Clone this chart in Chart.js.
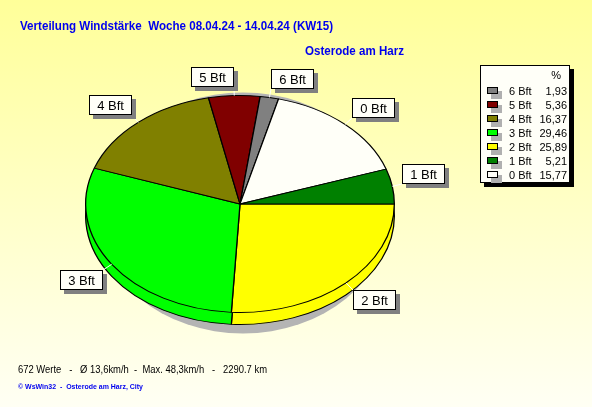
<!DOCTYPE html>
<html>
<head>
<meta charset="utf-8">
<script src="https://cdn.jsdelivr.net/npm/chart.js@4.4.1/dist/chart.umd.min.js"></script>
<style>
  html, body { margin: 0; padding: 0; background: #fffff0; }
  canvas { display: block; }
</style>
</head>
<body>
<canvas id="windChart" width="592" height="407"></canvas>
<script>
// Beaufort classes, in drawing order (clockwise from 3 o'clock)
const categories = ['2 Bft', '3 Bft', '4 Bft', '5 Bft', '6 Bft', '0 Bft', '1 Bft'];
const percentages = [25.89, 29.46, 16.37, 5.36, 1.93, 15.77, 5.21];
const sliceColors = ['#ffff00', '#00ff00', '#808000', '#800000', '#808080', '#fffff8', '#008000'];
// Legend rows, top to bottom
const legendOrder = ['6 Bft', '5 Bft', '4 Bft', '3 Bft', '2 Bft', '1 Bft', '0 Bft'];

const titleText = 'Verteilung Windstärke  Woche 08.04.24 - 14.04.24 (KW15)';
const stationText = 'Osterode am Harz';
const statsText = '672 Werte   -   Ø 13,6km/h  -  Max. 48,3km/h   -   2290.7 km';
const creditText = '© WsWin32  -  Osterode am Harz, City';

const FONT = '"Liberation Sans", Arial, sans-serif';
const tilt = 0.703;   // vertical squash of the pie
const depth = 12;     // thickness of the pie side

function fmt(v) {
    return v.toFixed(2).replace('.', ',');
}

// Yellow to cream background
const background = {
    id: 'background',
    beforeDraw(chart) {
        const {ctx, width, height} = chart;
        const g = ctx.createLinearGradient(0, 0, 0, height);
        g.addColorStop(0, '#ffff99');
        g.addColorStop(1, '#fffff4');
        ctx.save();
        ctx.fillStyle = g;
        ctx.fillRect(0, 0, width, height);
        ctx.restore();
    }
};

// Squash the pie into an ellipse, with a shadow and a side wall
const pie3d = {
    id: 'pie3d',
    beforeDatasetsDraw(chart) {
        const ctx = chart.ctx;
        const arcs = chart.getDatasetMeta(0).data;
        const {x, y, outerRadius: r} = arcs[0];
        ctx.save();
        ctx.fillStyle = '#b4b4b4';
        ctx.beginPath();
        ctx.ellipse(x + 3, y + 9, r - 8, r * tilt + 12, 0, 0, Math.PI * 2);
        ctx.fill();

        ctx.save();
        ctx.translate(x, y + depth);
        ctx.scale(1, tilt);
        ctx.translate(-x, -y);
        arcs.forEach(a => a.draw(ctx));
        ctx.restore();

        ctx.translate(x, y);
        ctx.scale(1, tilt);
        ctx.translate(-x, -y);
    },
    afterDatasetsDraw(chart) {
        chart.ctx.restore();
    }
};

function drawBox(ctx, x, y, w, h, shadow, off) {
    ctx.fillStyle = shadow;
    ctx.fillRect(x + off, y + off, w, h);
    ctx.fillStyle = '#fffff8';
    ctx.fillRect(x, y, w, h);
    ctx.strokeStyle = '#000';
    ctx.lineWidth = 1;
    ctx.strokeRect(x + 0.5, y + 0.5, w - 1, h - 1);
}

// Slice labels, legend and texts
const decorations = {
    id: 'decorations',
    afterDraw(chart) {
        const ctx = chart.ctx;
        const arcs = chart.getDatasetMeta(0).data;
        ctx.save();

        // slice labels
        ctx.font = '13px ' + FONT;
        ctx.textBaseline = 'middle';
        ctx.textAlign = 'center';
        arcs.forEach((a, i) => {
            const mid = (a.startAngle + a.endAngle) / 2;
            const c = Math.cos(mid), s = Math.sin(mid);
            const ex = a.x + c * a.outerRadius;
            const ey = a.y + s * a.outerRadius * tilt;
            const w = Math.round(ctx.measureText(categories[i]).width + 16);
            const h = 20;
            const gx = ex + 10 * c;
            const gy = ey + 8 * s + (s < 0 ? -1 : 1);
            const bx = Math.round(c >= 0 ? gx : gx - w);
            const by = Math.round(s < 0 ? gy - h : gy);
            ctx.strokeStyle = '#ffffff';
            ctx.beginPath();
            ctx.moveTo(ex, ey);
            ctx.lineTo(c >= 0 ? bx : bx + w, s < 0 ? by + h : by);
            ctx.stroke();
            drawBox(ctx, bx, by, w, h, '#808080', 4);
            ctx.fillStyle = '#000';
            ctx.fillText(categories[i], bx + w / 2, by + h / 2 + 1);
        });

        // legend
        drawBox(ctx, 480, 65, 90, 118, '#000000', 4);
        ctx.font = '11px ' + FONT;
        ctx.fillStyle = '#000';
        ctx.textAlign = 'right';
        ctx.fillText('%', 561, 76);
        legendOrder.forEach((name, k) => {
            const i = categories.indexOf(name);
            const yy = 92 + 14 * k;
            ctx.fillStyle = '#b0b0b0';
            ctx.fillRect(491, yy - 1, 11, 8);
            ctx.fillStyle = sliceColors[i];
            ctx.fillRect(487, yy - 5, 11, 7);
            ctx.strokeStyle = '#000';
            ctx.strokeRect(487.5, yy - 4.5, 10, 6);
            ctx.fillStyle = '#000';
            ctx.textAlign = 'left';
            ctx.fillText(name, 509, yy);
            ctx.textAlign = 'right';
            ctx.fillText(fmt(percentages[i]), 567, yy);
        });

        // titles
        ctx.textAlign = 'left';
        ctx.textBaseline = 'alphabetic';
        ctx.fillStyle = '#0000ee';
        ctx.font = 'bold 13px ' + FONT;
        ctx.fillText(titleText, 20, 30, 313);
        ctx.fillText(stationText, 305, 55, 99);

        // footer
        ctx.fillStyle = '#000';
        ctx.font = '11px ' + FONT;
        ctx.fillText(statsText, 18, 373, 249);
        ctx.fillStyle = '#0000ee';
        ctx.font = 'bold 8px ' + FONT;
        ctx.fillText(creditText, 18, 389, 125);
        ctx.restore();
    }
};

const ctx = document.getElementById('windChart').getContext('2d');
const windChart = new Chart(ctx, {
    type: 'pie',
    data: {
        labels: categories,
        datasets: [{
            data: percentages,
            backgroundColor: sliceColors,
            borderColor: '#000000',
            borderWidth: 1.3,
            clip: false
        }]
    },
    options: {
        responsive: false,
        animation: false,
        events: [],
        rotation: 90,
        layout: {
            padding: {left: 85, right: 197, top: 49, bottom: 48}
        },
        plugins: {
            legend: {display: false},
            tooltip: {enabled: false}
        }
    },
    plugins: [background, pie3d, decorations]
});
</script>
</body>
</html>
